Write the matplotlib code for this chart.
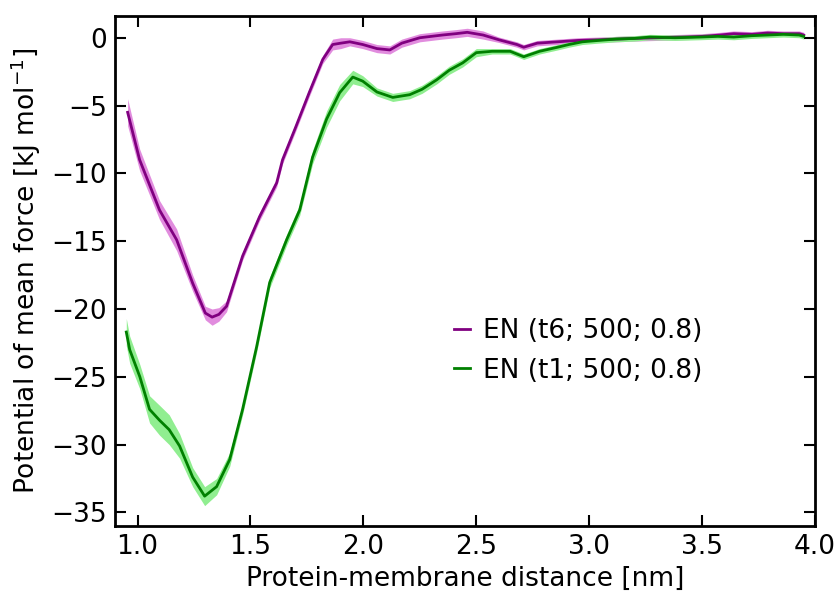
import numpy as np
import matplotlib.pyplot as plt

# EN (t6; 500; 0.8)
x_t6 = [0.956, 1.009, 1.097, 1.173, 1.244, 1.30, 1.33, 1.36, 1.394, 1.465, 1.54, 1.616,
        1.642, 1.70, 1.76, 1.82, 1.864, 1.90, 1.94, 1.997, 2.06, 2.117, 2.17, 2.25,
        2.30, 2.35, 2.41, 2.46, 2.53, 2.60, 2.68, 2.71, 2.77, 2.86, 2.95, 3.04, 3.12,
        3.20, 3.30, 3.41, 3.50, 3.58, 3.64, 3.72, 3.79, 3.86, 3.93, 3.95]
y_t6 = [-5.5, -9.0, -12.7, -14.9, -18.1, -20.3, -20.6, -20.4, -19.8, -16.1, -13.2, -10.7,
        -9.0, -6.6, -4.05, -1.6, -0.5, -0.4, -0.3, -0.5, -0.8, -0.9, -0.4, 0.0,
        0.1, 0.2, 0.3, 0.4, 0.2, -0.15, -0.5, -0.7, -0.4, -0.3, -0.2, -0.15, -0.1,
        -0.05, 0.0, 0.05, 0.1, 0.2, 0.3, 0.25, 0.35, 0.3, 0.3, 0.2]
e_t6 = [1.0, 0.8, 0.7, 0.8, 0.6, 0.5, 0.6, 0.5, 0.4, 0.3, 0.3, 0.3,
        0.3, 0.3, 0.3, 0.3, 0.4, 0.4, 0.3, 0.3, 0.3, 0.3, 0.3, 0.3,
        0.3, 0.3, 0.3, 0.3, 0.3, 0.2, 0.2, 0.2, 0.2, 0.2, 0.2, 0.2, 0.2,
        0.2, 0.2, 0.2, 0.2, 0.2, 0.2, 0.2, 0.2, 0.2, 0.2, 0.2]

# EN (t1; 500; 0.8)
x_t1 = [0.95, 0.965, 1.01, 1.053, 1.097, 1.14, 1.186, 1.244, 1.297, 1.35, 1.408, 1.465,
        1.527, 1.585, 1.66, 1.718, 1.775, 1.837, 1.895, 1.953, 1.997, 2.06, 2.13, 2.205,
        2.26, 2.325, 2.38, 2.44, 2.50, 2.57, 2.65, 2.71, 2.78, 2.86, 2.91, 2.97, 3.04,
        3.12, 3.20, 3.27, 3.38, 3.49, 3.57, 3.64, 3.72, 3.79, 3.86, 3.93, 3.95]
y_t1 = [-21.7, -23.0, -25.0, -27.4, -28.2, -28.9, -30.1, -32.4, -33.8, -33.1, -31.1, -27.4,
        -22.8, -18.05, -14.9, -12.7, -8.8, -6.0, -4.05, -2.9, -3.2, -4.0, -4.4, -4.2,
        -3.8, -3.1, -2.4, -1.85, -1.1, -1.0, -1.0, -1.4, -1.0, -0.7, -0.5, -0.3, -0.2,
        -0.1, -0.05, 0.05, 0.0, 0.05, 0.1, 0.05, 0.15, 0.2, 0.25, 0.2, 0.1]
e_t1 = [1.0, 1.0, 0.9, 1.0, 1.1, 1.1, 0.9, 0.7, 0.7, 0.6, 0.5, 0.4,
        0.4, 0.4, 0.4, 0.4, 0.5, 0.6, 0.6, 0.5, 0.4, 0.3, 0.3, 0.3,
        0.3, 0.3, 0.3, 0.3, 0.3, 0.2, 0.2, 0.2, 0.2, 0.2, 0.2, 0.2, 0.2,
        0.2, 0.2, 0.2, 0.2, 0.2, 0.2, 0.2, 0.2, 0.2, 0.2, 0.2, 0.2]

x_t6, y_t6, e_t6 = np.array(x_t6), np.array(y_t6), np.array(e_t6)
x_t1, y_t1, e_t1 = np.array(x_t1), np.array(y_t1), np.array(e_t1)

fs = 19
fig = plt.figure(figsize=(8.37, 5.94), dpi=100)
ax = fig.add_axes([0.1374, 0.1145, 0.8363, 0.8585])

ax.fill_between(x_t6, y_t6 - e_t6, y_t6 + e_t6, color='orchid', alpha=0.8, lw=0)
ax.plot(x_t6, y_t6, color='purple', lw=2.0, label='EN (t6; 500; 0.8)')
ax.fill_between(x_t1, y_t1 - e_t1, y_t1 + e_t1, color='lightgreen', alpha=1.0, lw=0)
ax.plot(x_t1, y_t1, color='green', lw=2.0, label='EN (t1; 500; 0.8)')

ax.set_xlim(0.9, 4.0)
ax.set_ylim(-36, 1.6)
ax.set_xticks(np.arange(1.0, 4.01, 0.5))
ax.set_yticks(np.arange(-35, 1, 5))
ax.tick_params(direction='in', top=True, right=True, length=8, width=1.5,
               labelsize=fs, pad=6)
for s in ax.spines.values():
    s.set_linewidth(2)

ax.set_xlabel('Protein-membrane distance [nm]', fontsize=fs, labelpad=4)
ax.set_ylabel('Potential of mean force [kJ mol$^{-1}$]', fontsize=fs, labelpad=6)
ax.legend(loc='center left', bbox_to_anchor=(0.45, 0.343), frameon=False,
          handlelength=0.6, handletextpad=0.5, labelspacing=0.5, fontsize=fs)

fig.savefig('out.png', dpi=100)
